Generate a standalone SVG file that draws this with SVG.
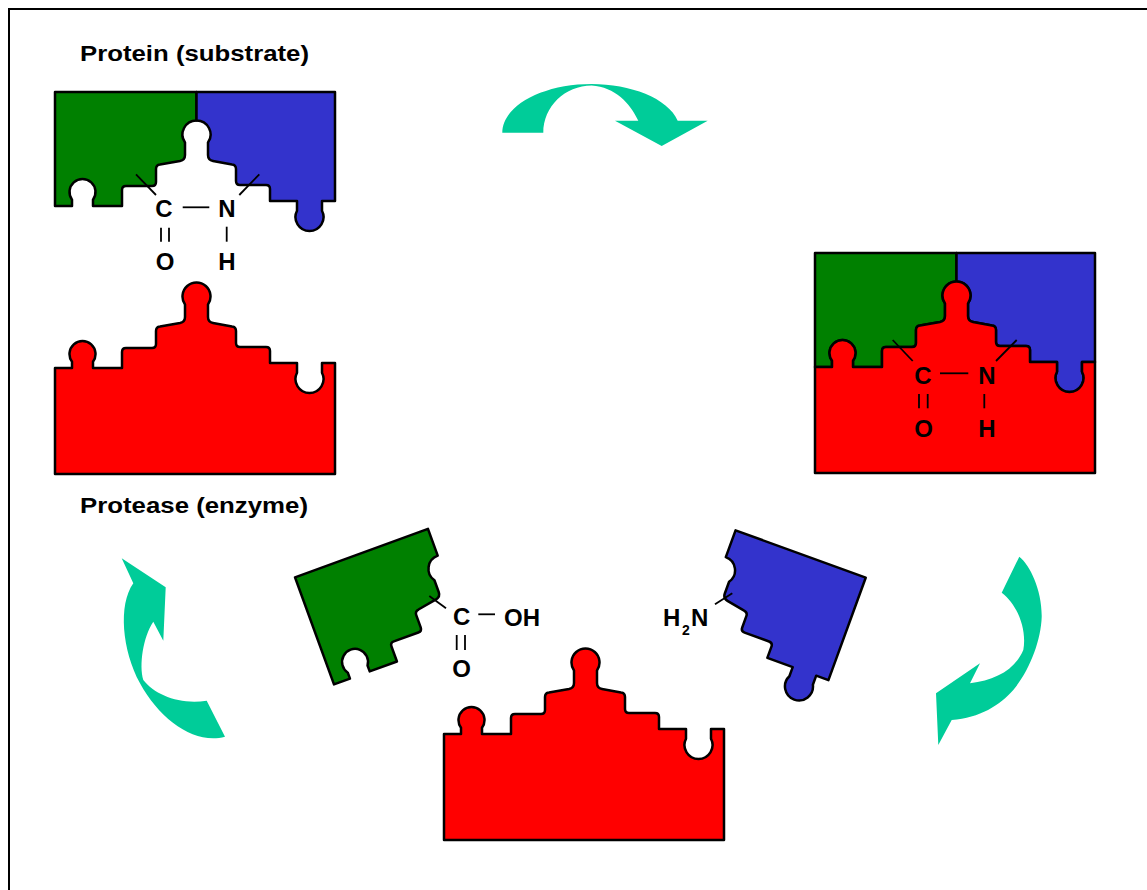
<svg xmlns="http://www.w3.org/2000/svg" xmlns:xlink="http://www.w3.org/1999/xlink" width="1147" height="890" viewBox="0 0 1147 890">
  <style>
    .piece { stroke: #000; stroke-width: 2.5; stroke-linejoin: round; }
    .red { fill: #FF0000; }
    .green { fill: #008000; }
    .blue { fill: #3333CC; }
    .arrow { fill: #00CC99; stroke: none; }
    .bond { stroke: #000; stroke-width: 1.8; fill: none; }
    .lbl { font-family: "Liberation Sans", Arial, sans-serif; font-weight: bold; font-size: 24px; fill: #000; text-anchor: middle; }
    .title { font-family: "Liberation Sans", Arial, sans-serif; font-weight: bold; font-size: 22px; fill: #000; }
  </style>
  <defs>
    <!-- enzyme: base block with stepped, knobbed top edge -->
    <path id="enz" d="M 55,368 L 72,368 L 72,361.7 A 13 13 0 1 1 93,361.7 L 93,368 L 122,368 L 122,352 Q 122,348 126,348 L 152,348 Q 156,348 156,344 L 156,331 Q 156,327 160,326.5 L 180,323 Q 185,322 185,317 L 185,304.5 A 14 14 0 1 1 208,304.5 L 208,317 Q 208,322 213,323 L 232,326.5 Q 236,327 236,331 L 236,343 Q 236,347 240,347 L 266,347 Q 270,347 270,351 L 270,363 L 297,363 L 297,372.7 A 14 14 0 1 0 322,372.7 L 322,363 L 335,363 L 335,474 L 55,474 Z"/>
    <!-- substrate halves, drawn in the enzyme's frame so the edges mesh -->
    <path id="pg" d="M 55,254 L 196.5,254 L 196.5,282.5 A 14 14 0 0 0 185,304.5 L 185,317 Q 185,322 180,323 L 160,326.5 Q 156,327 156,331 L 156,344 Q 156,348 152,348 L 126,348 Q 122,348 122,352 L 122,368 L 93,368 L 93,361.7 A 13 13 0 1 0 72,361.7 L 72,368 L 55,368 Z"/>
    <path id="pb" d="M 196.5,254 L 335,254 L 335,363 L 322,363 L 322,372.7 A 14 14 0 1 1 297,372.7 L 297,363 L 270,363 L 270,351 Q 270,347 266,347 L 240,347 Q 236,347 236,343 L 236,331 Q 236,327 232,326.5 L 213,323 Q 208,322 208,317 L 208,304.5 A 14 14 0 0 0 196.5,282.5 Z"/>
  </defs>

  <rect x="9" y="9" width="1160" height="900" fill="none" stroke="#000" stroke-width="2"/>

  <g id="substrate">
    <text class="title" x="80" y="61" textLength="229" lengthAdjust="spacingAndGlyphs">Protein (substrate)</text>
    <g transform="translate(0,-162)">
      <use xlink:href="#pg" class="piece green"/>
      <use xlink:href="#pb" class="piece blue"/>
    </g>
    <line class="bond" x1="136" y1="174.3" x2="156" y2="195"/>
    <line class="bond" x1="239.3" y1="195" x2="259.3" y2="174.3"/>
    <line class="bond" x1="182.7" y1="207.3" x2="209.3" y2="207.3"/>
    <line class="bond" x1="161" y1="227.7" x2="161" y2="241.7"/>
    <line class="bond" x1="169" y1="227.7" x2="169" y2="241.7"/>
    <line class="bond" x1="226.7" y1="226.7" x2="226.7" y2="241.7"/>
    <text class="lbl" x="164" y="216.8">C</text>
    <text class="lbl" x="227" y="216.8">N</text>
    <text class="lbl" x="165" y="270.2">O</text>
    <text class="lbl" x="227" y="270.2">H</text>
  </g>

  <g id="enzyme">
    <use xlink:href="#enz" class="piece red"/>
    <text class="title" x="80" y="513" textLength="228" lengthAdjust="spacingAndGlyphs">Protease (enzyme)</text>
  </g>

  <g id="complex">
    <g transform="translate(760,-1)">
      <use xlink:href="#pg" class="piece green"/>
      <use xlink:href="#pb" class="piece blue"/>
      <use xlink:href="#enz" class="piece red"/>
    </g>
    <line class="bond" x1="892.7" y1="340" x2="912.7" y2="361"/>
    <line class="bond" x1="996" y1="361" x2="1016.7" y2="340"/>
    <line class="bond" x1="940" y1="373.3" x2="968.3" y2="373.3"/>
    <line class="bond" x1="919" y1="394" x2="919" y2="408.3"/>
    <line class="bond" x1="927.7" y1="394" x2="927.7" y2="408.3"/>
    <line class="bond" x1="984.3" y1="394" x2="984.3" y2="408.3"/>
    <text class="lbl" x="923" y="383.5">C</text>
    <text class="lbl" x="987" y="383.5">N</text>
    <text class="lbl" x="923.5" y="436.8">O</text>
    <text class="lbl" x="987" y="436.8">H</text>
  </g>

  <g id="c-terminal-fragment">
    <use xlink:href="#pg" class="piece green" transform="translate(295,577.3) rotate(-20) translate(-55,-254)"/>
    <line class="bond" x1="429.3" y1="596" x2="446" y2="608.3"/>
    <line class="bond" x1="478.3" y1="614.3" x2="495" y2="614.3"/>
    <line class="bond" x1="456.7" y1="635" x2="456.7" y2="650"/>
    <line class="bond" x1="465" y1="635" x2="465" y2="650"/>
    <text class="lbl" x="461.7" y="625.2">C</text>
    <text class="lbl" x="522" y="625.7">OH</text>
    <text class="lbl" x="461.7" y="676.8">O</text>
  </g>

  <g id="n-terminal-fragment">
    <use xlink:href="#pb" class="piece blue" transform="translate(865.7,577.7) rotate(20) translate(-335,-254)"/>
    <line class="bond" x1="715" y1="604.3" x2="732.3" y2="593.3"/>
    <text class="lbl" style="text-anchor:start"><tspan x="663" y="626">H</tspan><tspan x="682" y="635" font-size="14">2</tspan><tspan x="691" y="626">N</tspan></text>
  </g>

  <g id="enzyme-released">
    <use xlink:href="#enz" class="piece red" transform="translate(389,366)"/>
  </g>

  <g id="connectors">
    <path class="arrow" d="M 502.3,132.7 C 502.3,105.8 542.3,84 591.7,84 C 630,84 668,98 677.7,120.7 L 707.7,120.7 L 661.7,146 L 615,120.7 L 638.3,120.7 C 630,103 615,87 591.7,85.5 C 565,85.5 543.3,106.7 543.3,132.7 Z"/>
    <path class="arrow" d="M 1019.3,556.7 C 1030,565 1042,590 1041.7,616.7 C 1041,640 1030,670 1013.3,690 C 1000,705 980,718 951.7,720 L 938.3,745 L 936,693.3 L 980,663.3 L 970,683.3 C 995,680 1015,670 1023.3,650 C 1027,630 1018,605 1001.7,592.7 Z"/>
    <path class="arrow" d="M 121.7,558.3 L 165.7,587.3 L 163.3,640.7 L 153.3,621.7 C 143,637 139,665 143.3,680 C 155,695 180,705 206.7,700.7 L 225,736.7 C 195,745 160,720 140,683.3 C 122,650 118,605 133.3,583.3 Z"/>
  </g>
</svg>
